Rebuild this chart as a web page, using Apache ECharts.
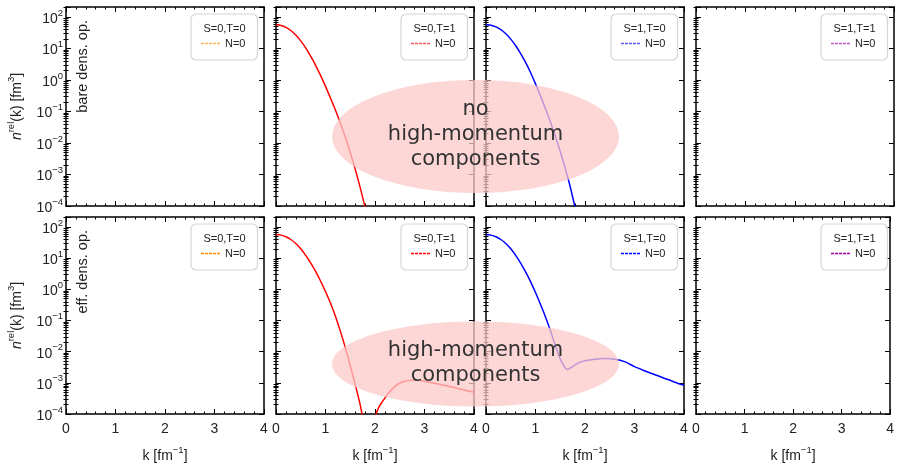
<!DOCTYPE html>
<html><head><meta charset="utf-8">
<script src="https://cdn.jsdelivr.net/npm/echarts@6/dist/echarts.min.js"></script>
<style>html,body{margin:0;padding:0;background:#fff}#c{width:897px;height:464px}</style>
</head><body><div id="c"></div>
<script>
// ---- data ----
const panelTitles = ['S=0,T=0', 'S=0,T=1', 'S=1,T=0', 'S=1,T=1'];
const rowLabels = ['bare dens. op.', 'eff. dens. op.'];
const legendLabel = 'N=0';
const xTicks = [0, 1, 2, 3, 4];

// bare density operator, S=0,T=1
const kBareS0T1 = [0,0.1,0.2,0.3,0.4,0.5,0.6,0.7,0.8,0.9,1.0,1.1,1.2,1.3,1.4,1.5,1.6,1.7,1.8];
const nBareS0T1 = [57.1,54.3,47.3,37.6,26.9,17.6,10.5,5.75,2.95,1.41,0.631,0.269,0.112,0.0437,0.0155,0.00501,0.00148,0.000389,0.0000891];
// bare density operator, S=1,T=0
const kBareS1T0 = [0,0.1,0.2,0.3,0.4,0.5,0.6,0.7,0.8,0.9,1.0,1.1,1.2,1.3,1.4,1.5,1.6,1.7,1.8];
const nBareS1T0 = [57.1,55.0,49.0,39.8,29.5,20.0,12.3,6.92,3.63,1.74,0.759,0.316,0.126,0.0479,0.0166,0.00537,0.00158,0.000417,0.0000891];
// effective density operator, S=0,T=1
const kEffS0T1 = [0,0.1,0.2,0.3,0.4,0.5,0.6,0.7,0.8,0.9,1.0,1.1,1.2,1.3,1.4,1.5,1.6,1.7,1.75,1.8,1.9,2.0,2.05,2.1,2.2,2.3,2.4,2.5,2.6,2.7,2.8,2.9,3.0,3.2,3.4,3.6,3.8,4.0];
const nEffS0T1 = [57.1,55.0,49.0,39.8,29.5,20.0,12.3,7.08,3.80,1.86,0.851,0.363,0.138,0.0457,0.0135,0.00355,0.000891,0.000200,0.0000794,0.0000400,0.0000012,0.0000725,0.000132,0.000191,0.000324,0.000525,0.000759,0.000977,0.00112,0.00120,0.00123,0.00120,0.00112,0.000977,0.000832,0.000708,0.000589,0.000501];
// effective density operator, S=1,T=0
const kEffS1T0 = [0,0.1,0.2,0.3,0.4,0.5,0.6,0.7,0.8,0.9,1.0,1.1,1.2,1.3,1.4,1.5,1.6,1.65,1.7,1.8,1.9,2.0,2.2,2.4,2.6,2.8,3.0,3.2,3.4,3.6,3.8,4.0];
const nEffS1T0 = [57.1,55.0,49.0,39.8,29.5,20.0,12.3,6.92,3.63,1.78,0.794,0.331,0.132,0.0479,0.0158,0.00589,0.00302,0.00269,0.00295,0.00380,0.00457,0.00513,0.00575,0.00603,0.00575,0.00479,0.00331,0.00245,0.00186,0.00141,0.00107,0.000832];
// channels with no visible curve
const kEmpty = [];
const nEmpty = [];

// ---- layout / style ----
const FONT = "'Liberation Sans', Arial, sans-serif";
const colors = ['#ff8c00', '#ff0000', '#0000ff', '#a000a0'];
const panelLefts = [66, 276, 486, 696];
const rowTops = [7, 217];
const PW = 198, PH = 199;
const Y_MIN = 1e-4, Y_MAX = 210;

const panelK = [[kEmpty, kBareS0T1, kBareS1T0, kEmpty], [kEmpty, kEffS0T1, kEffS1T0, kEmpty]];
const panelN = [[nEmpty, nBareS0T1, nBareS1T0, nEmpty], [nEmpty, nEffS0T1, nEffS1T0, nEmpty]];

const minorLog = [];
for (let e = -4; e <= 2; e++) for (let m = 2; m <= 9; m++) {
  const v = Math.log10(m) + e;
  if (v < Math.log10(Y_MAX)) minorLog.push(v);
}

const supRich = {
  b: {fontSize: 14, lineHeight: 18, verticalAlign: 'bottom', fontFamily: FONT, color: '#222'},
  i: {fontSize: 14, lineHeight: 18, verticalAlign: 'bottom', fontFamily: FONT, fontStyle: 'italic', color: '#222'},
  s: {fontSize: 9.5, lineHeight: 10, verticalAlign: 'top', fontFamily: FONT, color: '#222'}
};
const dashIcon = 'path://M0 0H3V1.5H0Z M4 0H7V1.5H4Z M8 0H11V1.5H8Z M12 0H15V1.5H12Z M16 0H19V1.5H16Z';

const grid = [], xAxis = [], yAxis = [], series = [], legend = [], graphic = [];
for (let r = 0; r < 2; r++) {
  for (let c = 0; c < 4; c++) {
    const g = r * 4 + c;
    const L = panelLefts[c], T = rowTops[r];
    grid.push({left: L, top: T, width: PW, height: PH});
    const xBase = {
      gridIndex: g, type: 'value', min: xTicks[0], max: xTicks[xTicks.length - 1], interval: 1,
      axisLine: {show: true, onZero: false, lineStyle: {color: '#000', width: 1.5}},
      axisTick: {show: true, inside: true, length: 5, lineStyle: {color: '#000', width: 1}},
      minorTick: {show: true, splitNumber: 5, length: 2.5, lineStyle: {color: '#000', width: 1}},
      splitLine: {show: false}, minorSplitLine: {show: false}
    };
    xAxis.push(Object.assign({}, xBase, {
      position: 'bottom',
      axisLabel: {show: r === 1, fontSize: 14, color: '#222', margin: 8, fontFamily: FONT},
      name: r === 1 ? '{b|k [fm}{s|−1}{b|]}' : '', nameLocation: 'middle', nameGap: 31,
      nameTextStyle: {rich: supRich}
    }));
    xAxis.push(Object.assign({}, xBase, {position: 'top', axisLabel: {show: false}}));

    const yMain = {
      gridIndex: g, type: 'log', logBase: 10, min: Y_MIN, max: Y_MAX,
      axisLine: {show: true, onZero: false, lineStyle: {color: '#000', width: 1.5}},
      axisTick: {show: true, inside: true, length: 5, lineStyle: {color: '#000', width: 1}},
      splitLine: {show: false}
    };
    yAxis.push(Object.assign({}, yMain, {
      position: 'left',
      axisLabel: {
        show: c === 0, margin: 3, fontFamily: FONT, rich: supRich,
        formatter: function (v) {
          const e = Math.log10(v), re = Math.round(e);
          if (Math.abs(e - re) > 1e-6) return '';
          return '{b|10}{s|' + (re < 0 ? '−' + (-re) : re) + '}';
        }
      },
      name: c === 0 ? '{i|n}{s|rel}{b|(k) [fm}{s|3}{b|]}' : '', nameLocation: 'middle', nameGap: 42,
      nameTextStyle: {rich: supRich}
    }));
    yAxis.push(Object.assign({}, yMain, {position: 'right', axisLabel: {show: false}}));
    const yMinor = {
      gridIndex: g, type: 'value', min: -4, max: Math.log10(Y_MAX),
      axisLine: {show: false}, axisLabel: {show: false}, splitLine: {show: false},
      axisTick: {show: true, inside: true, length: 2.5, customValues: minorLog, lineStyle: {color: '#000', width: 1}}
    };
    yAxis.push(Object.assign({}, yMinor, {position: 'left'}));
    yAxis.push(Object.assign({}, yMinor, {position: 'right'}));

    const ks = panelK[r][c], ns = panelN[r][c];
    series.push({
      type: 'line', name: 'p' + g, xAxisIndex: 2 * g, yAxisIndex: 4 * g,
      data: ks.map((k, i) => [k, ns[i]]),
      symbol: 'none', showSymbol: false, smooth: 0.3, clip: true, silent: true,
      color: colors[c], lineStyle: {color: colors[c], width: 1.5}, itemStyle: {color: colors[c]}, z: 2
    });

    const bx = L + 125, by = T + 7;
    legend.push({
      left: bx, top: by, data: ['p' + g], selectedMode: false, orient: 'vertical',
      formatter: function () { return legendLabel; },
      icon: dashIcon, itemWidth: 19, itemHeight: 1.5,
      itemStyle: {opacity: r === 0 ? 0.65 : 1},
      padding: [24, 12, 11, 10], backgroundColor: 'rgba(255,255,255,0.85)',
      borderColor: '#d6d6d6', borderWidth: 1.2, borderRadius: 5,
      textStyle: {fontSize: 11, color: '#222', fontFamily: FONT}
    });
    graphic.push({
      type: 'text', x: bx + 33.5, y: by + 15.3, z: 110, silent: true,
      style: {text: panelTitles[c], fontSize: 11, fontFamily: FONT, fill: '#222', align: 'center', verticalAlign: 'middle'}
    });
  }
  graphic.push({
    type: 'text', x: 82.5, y: rowTops[r] + 13, rotation: Math.PI / 2, z: 110, silent: true,
    style: {text: rowLabels[r], fontSize: 14.5, fontFamily: FONT, fill: '#222', align: 'right', verticalAlign: 'middle'}
  });
}

// annotation ellipses
const ellipses = [
  {cx: 475.5, cy: 136.5, rx: 143.5, ry: 56.5, text: 'no\nhigh-momentum\ncomponents', ty: 134.6},
  {cx: 475.5, cy: 364, rx: 143.5, ry: 42.5, text: 'high-momentum\ncomponents', ty: 363}
];
ellipses.forEach(e => {
  graphic.push({
    type: 'circle', x: e.cx, y: e.cy, scaleX: e.rx / e.ry, scaleY: 1, z: 100, silent: true,
    shape: {cx: 0, cy: 0, r: e.ry}, style: {fill: 'rgba(252,200,200,0.75)'}
  });
  graphic.push({
    type: 'text', x: e.cx, y: e.ty, z: 101, silent: true,
    style: {text: e.text, fontSize: 21, lineHeight: 25.3, fontFamily: "'DejaVu Sans', sans-serif", fill: '#333', align: 'center', verticalAlign: 'middle'}
  });
});

const chart = echarts.init(document.getElementById('c'), null, {renderer: 'canvas'});
chart.setOption({animation: false, backgroundColor: '#fff', grid, xAxis, yAxis, series, legend, graphic});
</script>
</body></html>
